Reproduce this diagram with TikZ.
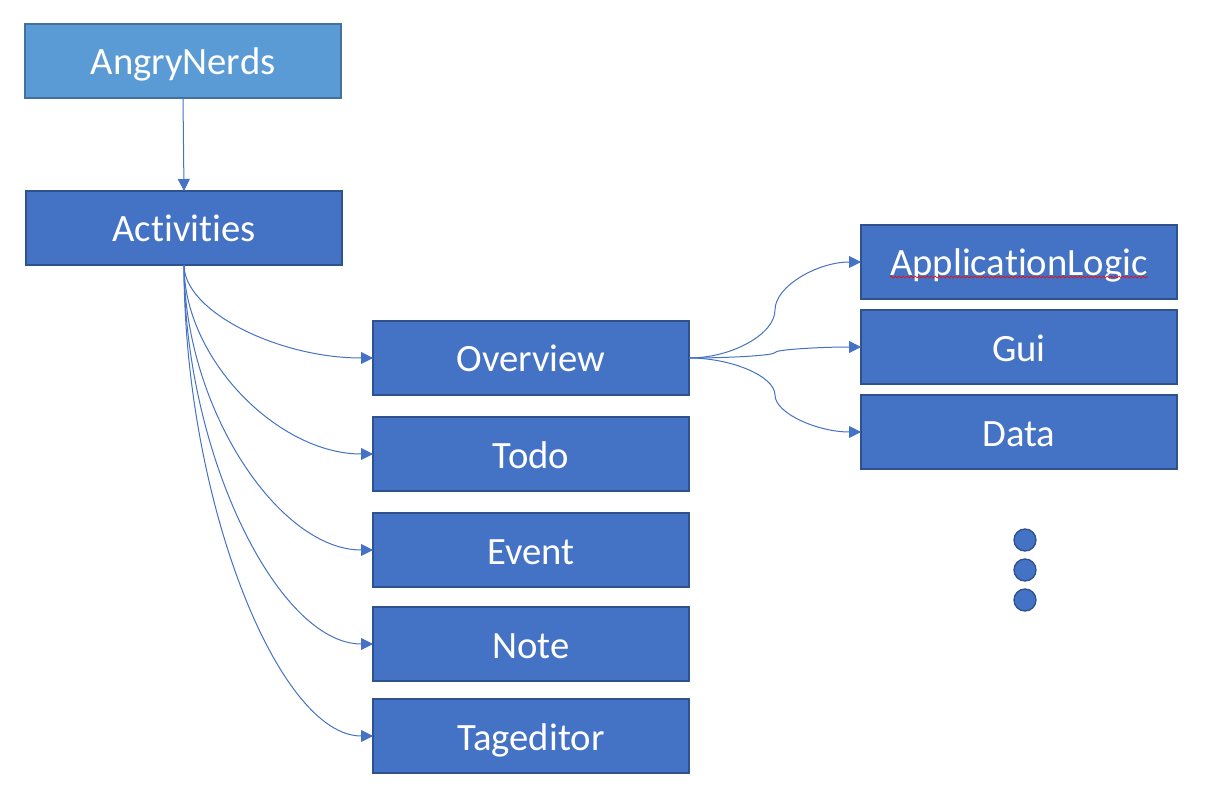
\documentclass[tikz,border=0pt]{standalone}
\usepackage{fontspec}
\setmainfont{Carlito}[Ligatures=NoCommon]
\usetikzlibrary{calc,arrows.meta,decorations.pathmorphing}
\definecolor{lightfill}{HTML}{5B9BD5}
\definecolor{lightline}{HTML}{41719C}
\definecolor{darkfill}{HTML}{4472C4}
\definecolor{darkline}{HTML}{2F528F}
\definecolor{connc}{HTML}{4472C4}
\tikzset{
  boxbase/.style={rectangle, minimum width=237pt, minimum height=55.5pt, inner sep=0pt, outer sep=0pt,
    line width=1pt, text=white, font=\fontsize{29}{34}\selectfont, text height=21pt, text depth=0pt},
  topbox/.style={boxbase, fill=lightfill, draw=lightline},
  modbox/.style={boxbase, fill=darkfill, draw=darkline},
  conn/.style={draw=connc, line width=0.75pt, -{Triangle[length=9pt,width=9pt]}},
  dotc/.style={circle, fill=darkfill, draw=darkline, line width=1pt, minimum size=16.5pt, inner sep=0pt}
}
\begin{document}
\begin{tikzpicture}[x=0.75pt,y=-0.75pt]
\useasboundingbox (0,0) rectangle (1208,806);
\node[topbox] (an) at (183,61) {AngryNerds};
\node[modbox] (act) at (184,228) {Activities};
\node[modbox] (ov) at (531,358) {Overview};
\node[modbox] (todo) at (531,454) {Todo};
\node[modbox] (ev) at (531,550) {Event};
\node[modbox] (note) at (531,644) {Note};
\node[modbox] (tag) at (531,736) {Tageditor};
\node[modbox] (al) at (1019,262) {ApplicationLogic};
\node[modbox] (gui) at (1019,347) {Gui};
\node[modbox] (data) at (1019,432) {Data};
\node[dotc] (d1) at (1025,540) {};
\node[dotc] (d2) at (1025,570) {};
\node[dotc] (d3) at (1025,600) {};
% spell-check squiggle
\draw[red, line width=0.5pt, decorate, decoration={snake, amplitude=0.7pt, segment length=3pt}]
  ([xshift=-96.75pt,yshift=-11.25pt]al.center) -- ([xshift=96.75pt,yshift=-11.25pt]al.center);
% top connector
\draw[conn] (an.south) -- (act.north);
% Activities fan-out (curved connectors)
\foreach \t in {ov,todo,ev,note,tag}{
  \draw[conn] (act.south) .. controls ($(act.south)!0.5!(act.south |- \t.west)$)
     and ($(\t.west)!0.5!(act.south |- \t.west)$) .. (\t.west);
}
% Overview fan-out (S-shaped connectors)
\foreach \t in {al,gui,data}{
  \coordinate (m) at ($(ov.east)!0.5!(\t.west)$);
  \coordinate (h1) at ($(ov.east)!0.5!(m)$);
  \coordinate (h2) at ($(m)!0.5!(\t.west)$);
  \draw[conn] (ov.east) .. controls (h1 |- ov.east) and (m |- h1) .. (m)
     .. controls (m |- h2) and (h2 |- \t.west) .. (\t.west);
}
\end{tikzpicture}
\end{document}
